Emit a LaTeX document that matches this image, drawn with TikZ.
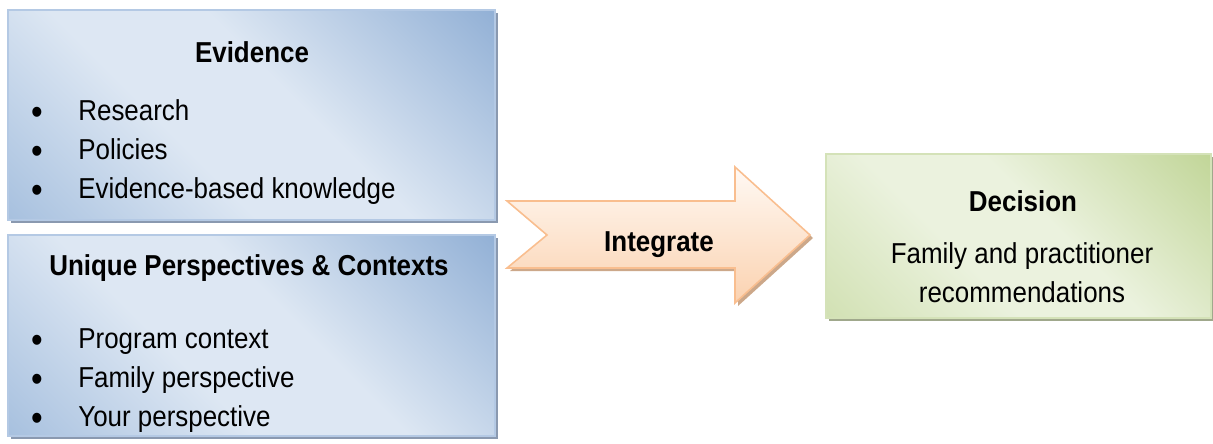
\documentclass[tikz,border=0pt]{standalone}
\usepackage{fontspec}
\setmainfont{Liberation Sans}[FakeStretch=0.9]
\usetikzlibrary{shadows}

\definecolor{bluedark}{RGB}{147,177,214}
\definecolor{bluemid}{RGB}{168,193,223}
\definecolor{bluelight}{RGB}{221,231,243}
\definecolor{blueedge}{RGB}{180,201,228}
\definecolor{blueshadow}{RGB}{138,153,176}
\definecolor{greendark}{RGB}{194,214,153}
\definecolor{greenmid}{RGB}{210,225,180}
\definecolor{greenlight}{RGB}{235,242,222}
\definecolor{greenedge}{RGB}{212,226,184}
\definecolor{greenshadow}{RGB}{160,168,140}
\definecolor{peachlight}{RGB}{255,249,244}
\definecolor{peachdark}{RGB}{251,210,176}
\definecolor{peachedge}{RGB}{249,190,143}
\definecolor{peachshadow}{RGB}{204,168,138}

\pgfdeclarehorizontalshading{bluefade}{100bp}{color(0bp)=(bluemid); color(15bp)=(bluemid); color(40bp)=(bluelight); color(56bp)=(bluelight); color(85bp)=(bluedark); color(100bp)=(bluedark)}
\pgfdeclarehorizontalshading{greenfade}{100bp}{color(0bp)=(greenmid); color(15bp)=(greenmid); color(40bp)=(greenlight); color(56bp)=(greenlight); color(85bp)=(greendark); color(100bp)=(greendark)}

\begin{document}
\begin{tikzpicture}[inner sep=0pt, font=\fontsize{16.4}{22}\selectfont,
  bluebox/.style={draw=blueedge, line width=0.7pt, shading=bluefade, shading angle=45,
    minimum width=9.74cm, minimum height=4.2cm,
    drop shadow={fill=blueshadow, opacity=1, shadow xshift=0.06cm, shadow yshift=-0.06cm}},
  greenbox/.style={draw=greenedge, line width=0.7pt, shading=greenfade, shading angle=45,
    minimum width=7.7cm, minimum height=3.28cm,
    drop shadow={fill=greenshadow, opacity=1, shadow xshift=0.06cm, shadow yshift=-0.06cm}},
  arrowshape/.style={draw=peachedge, line width=0.9pt, top color=peachlight, bottom color=peachdark,
    drop shadow={fill=peachshadow, opacity=1, shadow xshift=0.06cm, shadow yshift=-0.06cm}},
  title/.style={anchor=base, font=\fontsize{16.4}{22}\selectfont\bfseries},
  item/.style={anchor=base west},
  dot/.style={anchor=base, yshift=-0.08cm, font=\fontsize{21}{22}\selectfont}]

\useasboundingbox (0,0) rectangle (24.26,8.86);

% boxes
\node(evid) at (5.03,6.56) [bluebox] {};
\node(uniq) at (5.03,2.15) [bluebox, minimum height=4.02cm] {};
\node(dec) at (20.37,4.14) [greenbox] {};

% integrate arrow
\draw[arrowshape] (10.14,4.84) -- (14.70,4.84) -- (14.70,5.52) -- (16.20,4.16) -- (14.70,2.80)
  -- (14.70,3.50) -- (10.14,3.50) -- (10.94,4.16) -- cycle;
\node(integ) at (13.18,3.82) [title] {Integrate};

% evidence
\node(evidt) at (5.04,7.60) [title] {Evidence};
\foreach \t/\y/\n in {Research/6.44/res, Policies/5.66/pol, Evidence-based knowledge/4.88/ebk} {
  \node(\n) at (1.56,\y) [item] {\t};
  \node(\n b) at (0.74,\y) [dot] {\textbullet};
}

% perspectives
\node(uniqt) at (4.98,3.36) [title] {Unique Perspectives \& Contexts};
\foreach \t/\y/\n in {Program context/1.90/prog, Family perspective/1.12/fam, Your perspective/0.34/your} {
  \node(\n) at (1.56,\y) [item] {\t};
  \node(\n b) at (0.74,\y) [dot] {\textbullet};
}

% decision
\node(dect) at (20.46,4.62) [title] {Decision};
\node(rec1) at (20.44,3.58) [anchor=base] {Family and practitioner};
\node(rec2) at (20.44,2.82) [anchor=base] {recommendations};

\end{tikzpicture}
\end{document}
